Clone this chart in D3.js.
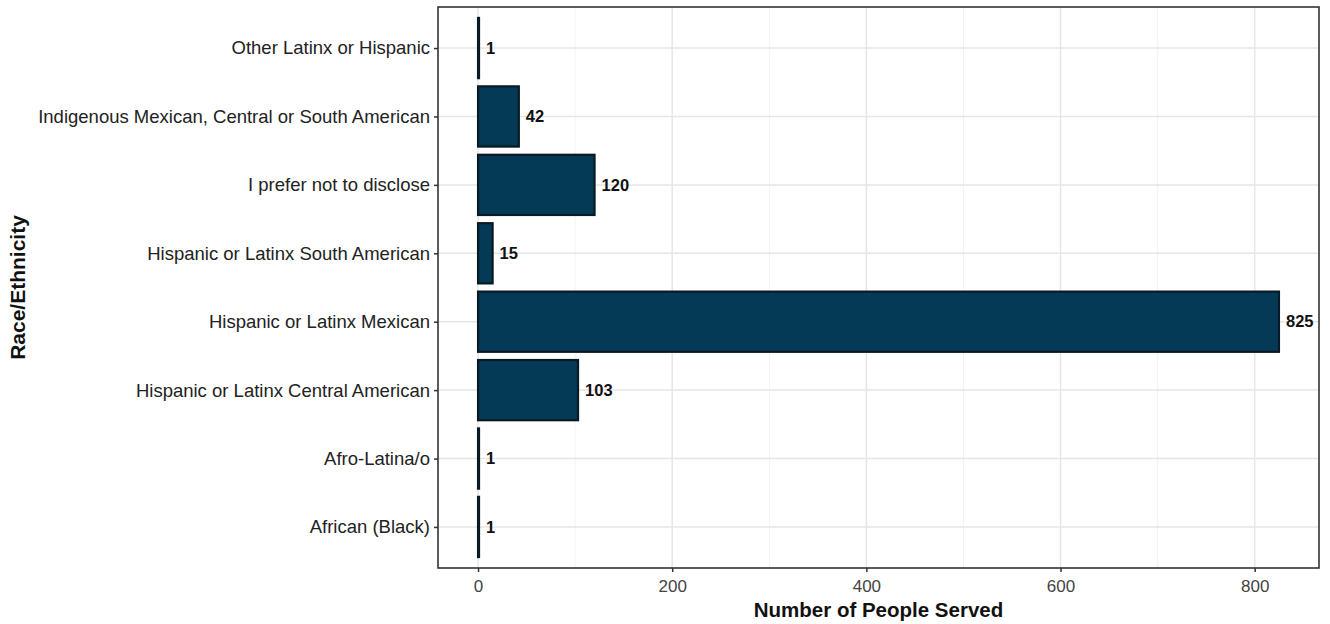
<!DOCTYPE html>
<html><head><meta charset="utf-8">
<script src="https://cdn.jsdelivr.net/npm/d3@7"></script>
<style>body{margin:0;background:#fff}svg{display:block;font-family:"Liberation Sans",Arial,sans-serif}</style>
</head><body>
<svg id="c" width="1330" height="624"></svg>
<script>
const categories = ["Other Latinx or Hispanic","Indigenous Mexican, Central or South American","I prefer not to disclose","Hispanic or Latinx South American","Hispanic or Latinx Mexican","Hispanic or Latinx Central American","Afro-Latina/o","African (Black)"];
const values = [1,42,120,15,825,103,1,1];
const xTicks = [0,200,400,600,800];
const xMinor = [100,300,500,700];

const svg = d3.select("#c");
const L=438, R=1319, T=7, B=568;
const maxV = d3.max(values);
const x = d3.scaleLinear().domain([-0.05*maxV, 1.05*maxV]).range([L,R]);
const y = d3.scalePoint().domain(categories).range([T,B]).padding(0.6);
const step = y.step();

// grid
const g = svg.append("g");
g.selectAll(".mn").data(xMinor).join("line").attr("x1",d=>x(d)).attr("x2",d=>x(d)).attr("y1",T).attr("y2",B).attr("stroke","#f3f3f3").attr("stroke-width",1);
g.selectAll(".mj").data(xTicks).join("line").attr("x1",d=>x(d)).attr("x2",d=>x(d)).attr("y1",T).attr("y2",B).attr("stroke","#e6e6e6").attr("stroke-width",1.5);
g.selectAll(".yg").data(categories).join("line").attr("x1",L).attr("x2",R).attr("y1",d=>y(d)).attr("y2",d=>y(d)).attr("stroke","#e6e6e6").attr("stroke-width",1.5);

// bars
const bh = step*0.88;
svg.selectAll(".bar").data(categories).join("rect")
  .attr("x",x(0)).attr("y",d=>y(d)-bh/2)
  .attr("width",(d,i)=>x(values[i])-x(0)).attr("height",bh)
  .attr("fill","#053a56").attr("stroke","#0a1a24").attr("stroke-width",2.2);

// value labels
svg.selectAll(".vl").data(categories).join("text")
  .attr("x",(d,i)=>x(values[i])+7).attr("y",d=>y(d)).attr("dy","0.35em")
  .attr("font-size",16.5).attr("font-weight","bold").attr("fill","#111")
  .text((d,i)=>values[i]);

// panel border
svg.append("rect").attr("x",L).attr("y",T).attr("width",R-L).attr("height",B-T)
  .attr("fill","none").attr("stroke","#333").attr("stroke-width",1.6);

// axes
const xa = svg.append("g").attr("transform",`translate(0,${B})`)
  .call(d3.axisBottom(x).tickValues(xTicks).tickSize(4).tickPadding(8));
xa.select(".domain").remove();
xa.selectAll("line").attr("stroke","#333").attr("stroke-width",1.5);
xa.selectAll("text").attr("font-size",17).attr("fill","#444").attr("font-family","Liberation Sans, Arial, sans-serif");

const ya = svg.append("g").attr("transform",`translate(${L},0)`)
  .call(d3.axisLeft(y).tickSize(4).tickPadding(4));
ya.select(".domain").remove();
ya.selectAll("line").attr("stroke","#333").attr("stroke-width",1.5);
ya.selectAll("text").attr("font-size",18.5).attr("fill","#222").attr("font-family","Liberation Sans, Arial, sans-serif");

// titles
svg.append("text").attr("x",(L+R)/2).attr("y",617).attr("text-anchor","middle")
  .attr("font-size",20.5).attr("font-weight","bold").attr("fill","#111").text("Number of People Served");
svg.append("text").attr("transform",`translate(25,${(T+B)/2}) rotate(-90)`).attr("text-anchor","middle")
  .attr("font-size",21).attr("font-weight","bold").attr("fill","#111").text("Race/Ethnicity");
</script>
</body></html>
